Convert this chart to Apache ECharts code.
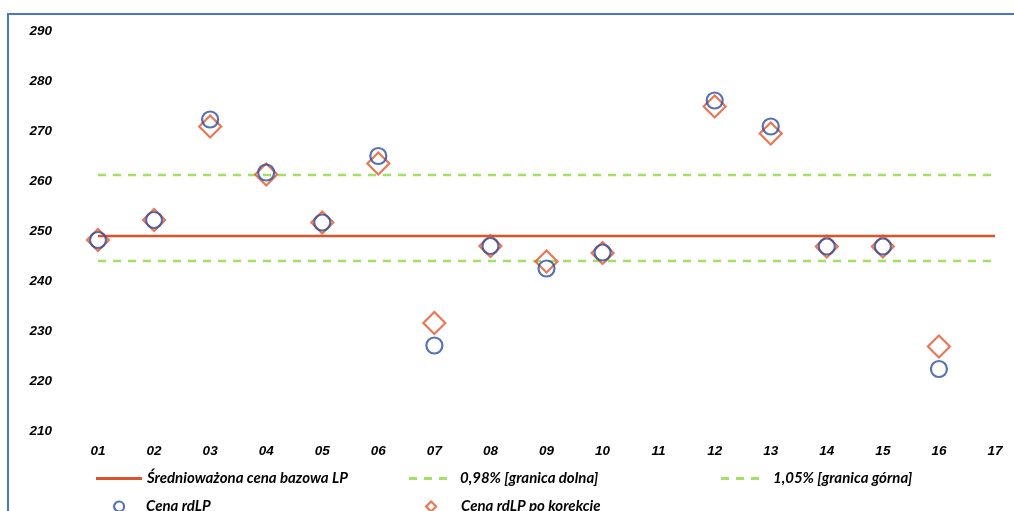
<!DOCTYPE html>
<html>
<head>
<meta charset="utf-8">
<script src="https://cdn.jsdelivr.net/npm/echarts@6/dist/echarts.min.js"></script>
<style>
html,body{margin:0;padding:0;background:#fff;}
#c{width:1014px;height:511px;}
</style>
</head>
<body>
<div id="c"></div>
<script>
var categories = ['01','02','03','04','05','06','07','08','09','10','11','12','13','14','15','16','17'];
var yTicks = [210, 220, 230, 240, 250, 260, 270, 280, 290];
var sredniaCena = [249,249,249,249,249,249,249,249,249,249,249,249,249,249,249,249,249];
var granicaDolna = [244,244,244,244,244,244,244,244,244,244,244,244,244,244,244,244,244];
var granicaGorna = [261.2,261.2,261.2,261.2,261.2,261.2,261.2,261.2,261.2,261.2,261.2,261.2,261.2,261.2,261.2,261.2,261.2];
var cenaRdLP = [248.2,252.2,272.3,261.7,251.7,265.0,227.1,247.0,242.5,245.7,'-',276.1,270.9,246.9,246.9,222.4,'-'];
var cenaPoKorekcie = [248.2,252.2,270.9,261.3,251.7,263.5,231.6,247.0,243.9,245.6,'-',274.9,269.5,246.9,246.9,226.9,'-'];

var names = ['Średnioważona cena bazowa LP','0,98% [granica dolna]','1,05% [granica górna]','Cena rdLP','Cena rdLP po korekcie'];
var RED = '#d9532b', GREEN = '#a3e065', BLUE = '#2c4f9f', ORANGE = '#e4552a';

function txt(padLeft) {
  return {fontFamily:'Lato', fontStyle:'italic', fontWeight:'bold', fontSize:15, color:'#000',
    padding:[0,0,0,padLeft]};
}
var DASH = 'path://M0,0h8v3h-8z M15,0h8v3h-8z M30,0h8v3h-8z';

var chart = echarts.init(document.getElementById('c'), null, {renderer:'canvas'});
chart.setOption({
  backgroundColor:'#ffffff',
  animation:false,
  graphic:[{type:'rect', shape:{x:8, y:14, width:1030, height:520},
    style:{fill:'none', stroke:'#4a78c8', lineWidth:2}, z:100}],
  legend:[
    {data:[{name:names[0], icon:'rect', itemStyle:{color:RED}}], left:96, top:471, itemWidth:46, itemHeight:3,
      padding:0, textStyle:txt(0), selectedMode:false},
    {data:[{name:names[1], icon:DASH, itemStyle:{color:GREEN}}], left:409, top:471, itemWidth:38, itemHeight:3,
      padding:0, textStyle:txt(8), selectedMode:false},
    {data:[{name:names[2], icon:DASH, itemStyle:{color:GREEN}}], left:721, top:471, itemWidth:38, itemHeight:3,
      padding:0, textStyle:txt(9), selectedMode:false},
    {data:[{name:names[3], icon:'circle', itemStyle:{color:'#fff', borderColor:BLUE, borderWidth:2.2}}],
      left:113, top:499, itemWidth:10, itemHeight:10, padding:0, textStyle:txt(17), selectedMode:false},
    {data:[{name:names[4], icon:'diamond', itemStyle:{color:'#fff', borderColor:ORANGE, borderWidth:2.2}}],
      left:425, top:499, itemWidth:10, itemHeight:10, padding:0, textStyle:txt(20), selectedMode:false}
  ],
  grid:{left:98, right:19, top:31, bottom:80, containLabel:false},
  xAxis:{type:'category', data:categories, boundaryGap:false,
    axisLine:{show:false}, axisTick:{show:false}, splitLine:{show:false},
    axisLabel:{margin:13, fontFamily:'Liberation Sans', fontStyle:'italic', fontWeight:'bold', fontSize:13.5, color:'#000', interval:0}},
  yAxis:{type:'value', min:yTicks[0], max:yTicks[yTicks.length-1], interval:10,
    axisLine:{show:false}, axisTick:{show:false}, splitLine:{show:false},
    axisLabel:{margin:46, fontFamily:'Liberation Sans', fontStyle:'italic', fontWeight:'bold', fontSize:13.5, color:'#000'}},
  series:[
    {name:names[0], type:'line', data:sredniaCena, symbol:'none', itemStyle:{color:RED},
      lineStyle:{color:RED, width:2.5}, z:2},
    {name:names[1], type:'line', data:granicaDolna, symbol:'none', itemStyle:{color:GREEN},
      lineStyle:{color:GREEN, width:2.5, type:[8,7]}, z:2},
    {name:names[2], type:'line', data:granicaGorna, symbol:'none', itemStyle:{color:GREEN},
      lineStyle:{color:GREEN, width:2.5, type:[8,7]}, z:2},
    {name:names[4], type:'scatter', data:cenaPoKorekcie, symbol:'diamond', symbolSize:22,
      itemStyle:{color:'rgba(255,255,255,0)', borderColor:ORANGE, borderWidth:2.2}, z:3},
    {name:names[3], type:'scatter', data:cenaRdLP, symbol:'circle', symbolSize:16,
      itemStyle:{color:'rgba(255,255,255,0)', borderColor:BLUE, borderWidth:2.2}, z:4}
  ]
});
</script>
</body>
</html>
